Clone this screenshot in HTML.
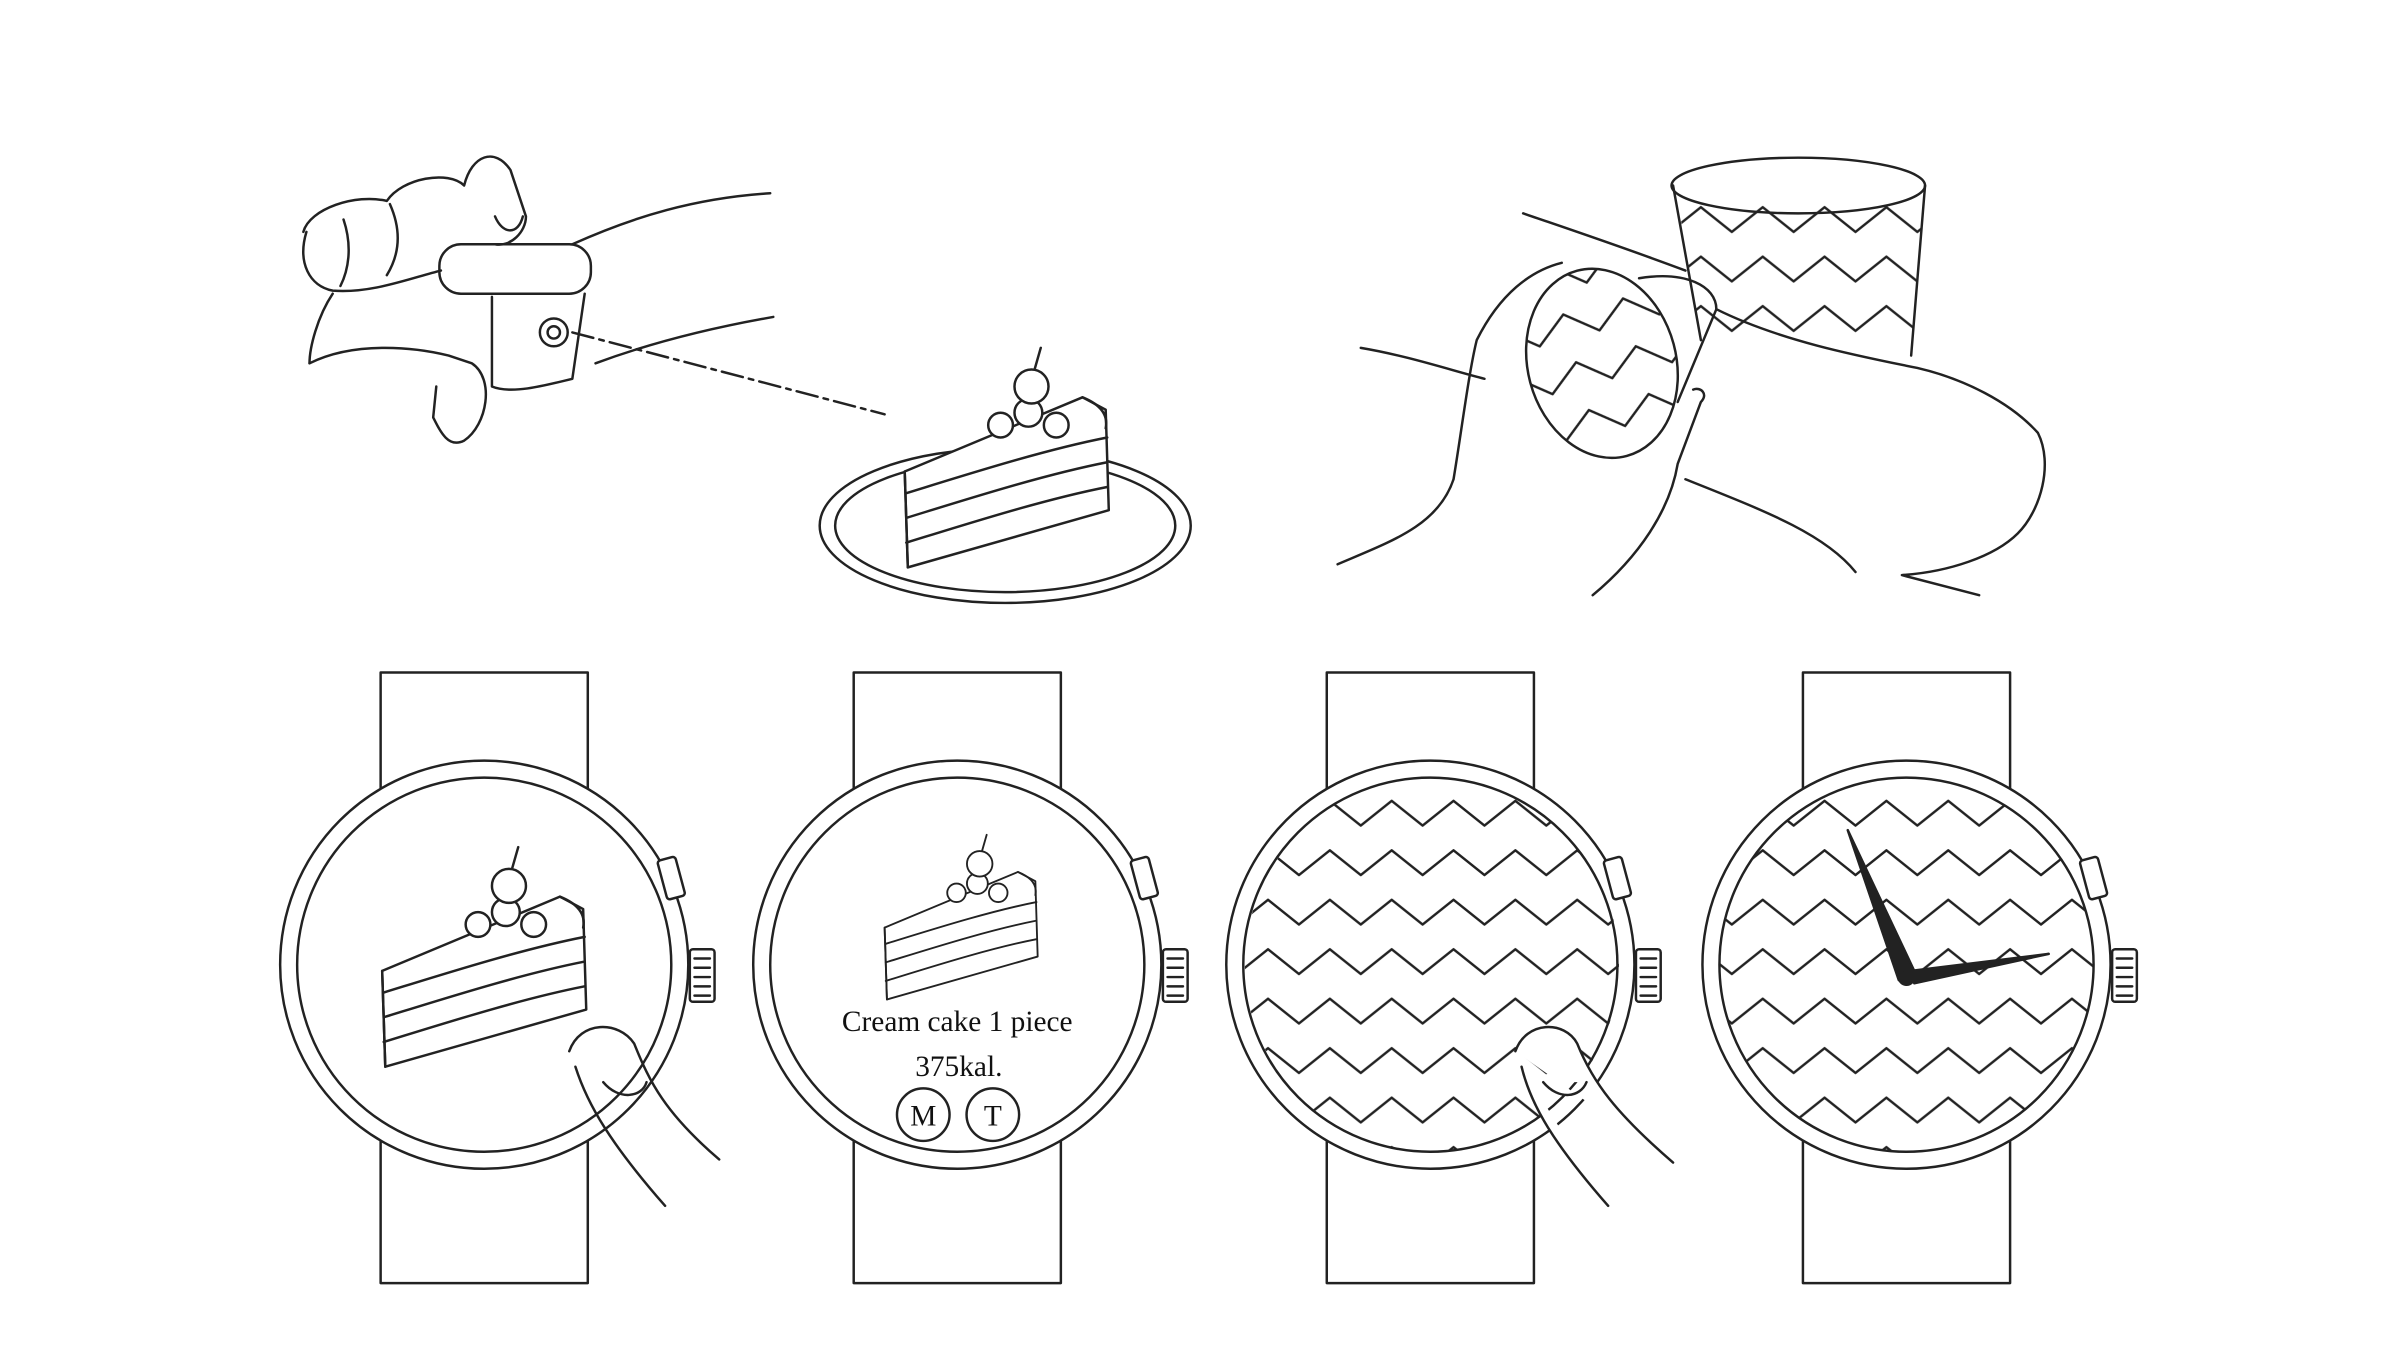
<!DOCTYPE html>
<html><head><meta charset="utf-8"><style>html,body{margin:0;padding:0;background:#fff}svg{display:block}</style></head>
<body>
<svg width="2400" height="1345" viewBox="0 0 1552 870" xmlns="http://www.w3.org/2000/svg" fill="none" stroke="#222" stroke-width="1.6" stroke-linecap="round" stroke-linejoin="round">
<defs>
<pattern id="zz" x="0" y="0" width="40" height="32" patternUnits="userSpaceOnUse">
<path d="M0 22 L20 6 L40 22" stroke="#222" stroke-width="1.6" fill="none"/>
</pattern>
<clipPath id="c3"><circle cx="926" cy="624" r="121"/></clipPath>
<clipPath id="c4"><circle cx="1233" cy="624" r="121"/></clipPath>
<g id="cake">
<path d="M0 0 L115 -48 L130 -40 L132 25 L2 62 Z" fill="#fff"/>
<path d="M0 0 L2 62"/>
<path d="M1 14 C40 2 90 -14 131 -22"/>
<path d="M1 30 C40 18 90 2 131 -6"/>
<path d="M1 46 C40 34 90 18 131 10"/>
<path d="M115 -48 C125 -44 132 -38 130 -28"/>
<circle cx="80" cy="-38" r="9" fill="#fff"/><circle cx="62" cy="-30" r="8" fill="#fff"/><circle cx="98" cy="-30" r="8" fill="#fff"/>
<circle cx="82" cy="-55" r="11" fill="#fff"/><path d="M84 -66 L88 -80"/>
</g>
</defs>

<!-- Top left: hand with ring -->
<path d="M200 235 C230 220 270 225 290 230 L305 235 C320 245 315 275 300 285 C290 290 285 280 280 270 L282 250"/>
<path d="M196 150 C200 135 230 125 250 130 C260 115 290 110 300 120 C305 100 320 95 330 110 L340 140 C340 150 330 160 320 158"/>
<path d="M198 150 C192 170 200 185 215 188 C240 190 265 180 285 175"/>
<path d="M200 235 C200 225 205 205 215 190"/>
<path d="M222 142 C228 160 225 175 220 185 M252 132 C260 150 258 165 250 178"/>
<path d="M320 140 C325 152 335 152 338 140"/>
<rect x="284" y="158" width="98" height="32" rx="14"/>
<path d="M318 192 L318 250 C330 255 350 250 370 245 L378 190"/>
<circle cx="358" cy="215" r="9"/><circle cx="358" cy="215" r="4"/>
<path d="M370 158 C410 140 450 128 498 125 M385 235 C420 222 460 212 500 205"/>
<path d="M370 215 L572 268" stroke-dasharray="14 4 3 4"/>

<!-- cake on plate -->
<ellipse cx="650" cy="340" rx="120" ry="50"/>
<ellipse cx="650" cy="340" rx="110" ry="43"/>
<g transform="translate(585,305)"><use href="#cake"/></g>

<!-- Top right: cup and hands -->
<path d="M1082 120 L1100 220 M1245 120 L1236 230"/>
<ellipse cx="1163" cy="120" rx="82" ry="18"/>
<path d="M1085 130 L1100 220 L1236 230 L1244 130 Z" fill="url(#zz)" stroke="none"/>
<path d="M985 138 C1020 150 1050 160 1090 175 M1110 200 C1150 220 1200 230 1240 238 C1270 245 1300 260 1318 280 C1328 300 1320 330 1305 345 C1290 360 1260 370 1230 372 L1280 385 M1090 310 C1140 330 1180 345 1200 370"/>
<ellipse cx="1036" cy="235" rx="48" ry="62" transform="rotate(-15 1036 235)" fill="url(#zz)"/>
<path d="M1060 180 C1090 175 1110 185 1110 200 L1085 260"/>
<path d="M880 225 C910 230 940 240 960 245 M865 365 C900 350 930 340 940 310 C945 280 950 240 955 220 C970 190 990 175 1010 170 M1030 385 C1060 360 1080 330 1085 300 L1100 260 C1105 255 1100 250 1095 252"/>

<!-- Watches -->
<g id="w">
<rect x="246" y="435" width="134" height="395" fill="#fff"/>
<circle cx="313" cy="624" r="132" fill="#fff"/>
<circle cx="313" cy="624" r="121"/>
<rect x="428" y="555" width="12" height="26" rx="2" transform="rotate(-15 434 568)" fill="#fff"/>
<rect x="446" y="614" width="16" height="34" rx="2" fill="#fff"/>
<path d="M449 620 H459 M449 626 H459 M449 632 H459 M449 638 H459 M449 644 H459"/>
</g>
<use href="#w" x="306"/>
<use href="#w" x="612"/>
<use href="#w" x="920"/>

<!-- watch 1 content -->
<g transform="translate(247,628) scale(1.0)"><use href="#cake"/></g>
<path d="M368 680 C375 660 400 660 410 675 C420 700 430 720 465 750 M372 690 C380 715 395 740 430 780 M390 700 C400 712 415 710 418 700"/>
<!-- watch 2 content -->
<g transform="translate(572,600) scale(0.75)"><use href="#cake"/></g>
<text x="619" y="667" font-family="Liberation Serif, serif" font-size="19" fill="#111" stroke="none" text-anchor="middle">Cream cake 1 piece</text>
<text x="620" y="696" font-family="Liberation Serif, serif" font-size="19" fill="#111" stroke="none" text-anchor="middle">375kal.</text>
<circle cx="597" cy="721" r="17"/><circle cx="642" cy="721" r="17"/>
<text x="597" y="728" font-family="Liberation Serif, serif" font-size="19" fill="#111" stroke="none" text-anchor="middle">M</text>
<text x="642" y="728" font-family="Liberation Serif, serif" font-size="19" fill="#111" stroke="none" text-anchor="middle">T</text>
<!-- watch 3 -->
<rect x="800" y="500" width="260" height="260" fill="url(#zz)" stroke="none" clip-path="url(#c3)"/>
<path d="M980 680 C987 660 1012 660 1020 675 C1030 700 1045 720 1082 752 M984 690 C990 715 1005 740 1040 780 M998 700 C1008 712 1022 710 1026 700" fill="#fff"/>
<!-- watch 4 -->
<rect x="1108" y="500" width="260" height="260" fill="url(#zz)" stroke="none" clip-path="url(#c4)"/>
<path d="M1195 537 L1238 628 L1228 634 Z" fill="#222"/>
<path d="M1325 617 L1236 628 L1238 636 Z" fill="#222"/>
<circle cx="1233" cy="632" r="5" fill="#222"/>
</svg>
</body></html>
